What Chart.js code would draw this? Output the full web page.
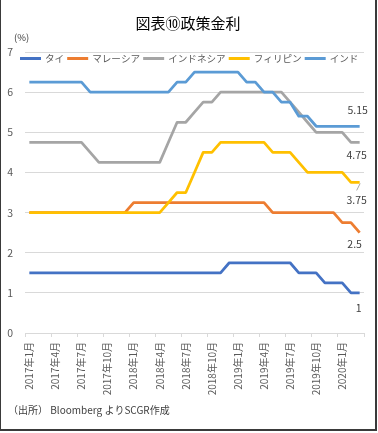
<!DOCTYPE html>
<html lang="ja">
<head>
<meta charset="utf-8">
<title>図表⑩政策金利</title>
<script src="https://cdn.jsdelivr.net/npm/chart.js@4.4.1/dist/chart.umd.min.js"></script>
<style>
  html, body { margin: 0; padding: 0; background: #fff; }
  #wrap { position: relative; width: 378px; height: 433px; }
  #frame {
    position: absolute; left: 0; top: 0; width: 374px; height: 429px;
    border-left: 1px solid #3a3a3a; border-right: 2px solid #3a3a3a; border-bottom: 2px solid #3a3a3a;
    pointer-events: none;
  }
</style>
</head>
<body>
<div id="wrap">
  <canvas id="rateChart" width="378" height="433"></canvas>
  <div id="frame"></div>
</div>
<script>
const chartTitle = '図表⑩政策金利';
const unitLabel = '(%)';
const sourceNote = '（出所） Bloomberg よりSCGR作成';

const months = [
  '2017年1月', '2017年2月', '2017年3月', '2017年4月', '2017年5月', '2017年6月',
  '2017年7月', '2017年8月', '2017年9月', '2017年10月', '2017年11月', '2017年12月',
  '2018年1月', '2018年2月', '2018年3月', '2018年4月', '2018年5月', '2018年6月',
  '2018年7月', '2018年8月', '2018年9月', '2018年10月', '2018年11月', '2018年12月',
  '2019年1月', '2019年2月', '2019年3月', '2019年4月', '2019年5月', '2019年6月',
  '2019年7月', '2019年8月', '2019年9月', '2019年10月', '2019年11月', '2019年12月',
  '2020年1月', '2020年2月', '2020年3月'
];

const seriesNames = ['タイ', 'マレーシア', 'インドネシア', 'フィリピン', 'インド'];

const thai = [
  1.5, 1.5, 1.5, 1.5, 1.5, 1.5, 1.5, 1.5, 1.5, 1.5, 1.5, 1.5,
  1.5, 1.5, 1.5, 1.5, 1.5, 1.5, 1.5, 1.5, 1.5, 1.5, 1.5, 1.75,
  1.75, 1.75, 1.75, 1.75, 1.75, 1.75, 1.75, 1.5, 1.5, 1.5, 1.25, 1.25,
  1.25, 1, 1
];
const malaysia = [
  3, 3, 3, 3, 3, 3, 3, 3, 3, 3, 3, 3,
  3.25, 3.25, 3.25, 3.25, 3.25, 3.25, 3.25, 3.25, 3.25, 3.25, 3.25, 3.25,
  3.25, 3.25, 3.25, 3.25, 3, 3, 3, 3, 3, 3, 3, 3,
  2.75, 2.75, 2.5
];
const indonesia = [
  4.75, 4.75, 4.75, 4.75, 4.75, 4.75, 4.75, 4.5, 4.25, 4.25, 4.25, 4.25,
  4.25, 4.25, 4.25, 4.25, 4.75, 5.25, 5.25, 5.5, 5.75, 5.75, 6, 6,
  6, 6, 6, 6, 6, 6, 5.75, 5.5, 5.25, 5, 5, 5,
  5, 4.75, 4.75
];
const philippines = [
  3, 3, 3, 3, 3, 3, 3, 3, 3, 3, 3, 3,
  3, 3, 3, 3, 3.25, 3.5, 3.5, 4, 4.5, 4.5, 4.75, 4.75,
  4.75, 4.75, 4.75, 4.75, 4.5, 4.5, 4.5, 4.25, 4, 4, 4, 4,
  4, 3.75, 3.75
];
const india = [
  6.25, 6.25, 6.25, 6.25, 6.25, 6.25, 6.25, 6, 6, 6, 6, 6,
  6, 6, 6, 6, 6, 6.25, 6.25, 6.5, 6.5, 6.5, 6.5, 6.5,
  6.5, 6.25, 6.25, 6, 6, 5.75, 5.75, 5.4, 5.4, 5.15, 5.15, 5.15,
  5.15, 5.15, 5.15
];

const yTicks = [0, 1, 2, 3, 4, 5, 6, 7];

const colors = ['#4472C4', '#ED7D31', '#A5A5A5', '#FFC000', '#5B9BD5'];
// where each end-of-line value label sits, relative to the last point
const endLabelOffset = [[-1, 15], [-5, 11], [-3, 13], [-3, 18], [-2, -16]];

const FONT = '"Noto Sans CJK JP", "Noto Sans", sans-serif';
Chart.defaults.font.family = FONT;

const decorations = {
    id: 'decorations',
    afterDraw(chart) {
        const ctx = chart.ctx;
        ctx.save();

        // title
        ctx.fillStyle = '#000';
        ctx.font = `15px ${FONT}`;
        ctx.textAlign = 'center';
        ctx.textBaseline = 'middle';
        ctx.fillText(chartTitle, 188, 23);

        // unit
        ctx.fillStyle = '#404040';
        ctx.font = `9.5px ${FONT}`;
        ctx.textAlign = 'left';
        ctx.fillText(unitLabel, 14, 37);

        // legend
        ctx.font = `9.6px ${FONT}`;
        let x = 20;
        chart.data.datasets.forEach(ds => {
            ctx.fillStyle = ds.borderColor;
            ctx.fillRect(x, 57, 21, 3);
            ctx.fillStyle = '#595959';
            ctx.fillText(ds.label, x + 25, 58);
            x += 25 + ctx.measureText(ds.label).width + 3;
        });

        // end values
        ctx.font = `10.5px ${FONT}`;
        ctx.fillStyle = '#404040';
        ctx.textAlign = 'center';
        chart.data.datasets.forEach((ds, i) => {
            const meta = chart.getDatasetMeta(i);
            const pt = meta.data[meta.data.length - 1];
            const off = endLabelOffset[i];
            ctx.fillText(String(ds.data[ds.data.length - 1]), pt.x + off[0], pt.y + off[1]);
            if (i === 3) {
                ctx.strokeStyle = '#a6a6a6';
                ctx.lineWidth = 1;
                ctx.beginPath();
                ctx.moveTo(pt.x + 0.5, pt.y + 1);
                ctx.lineTo(pt.x - 3, pt.y + 8);
                ctx.stroke();
            }
        });

        // source
        ctx.font = `10px ${FONT}`;
        ctx.fillStyle = '#404040';
        ctx.textAlign = 'left';
        ctx.fillText(sourceNote, 8, 410);

        ctx.restore();
    }
};

const seriesData = [thai, malaysia, indonesia, philippines, india];

new Chart(document.getElementById('rateChart'), {
    type: 'line',
    data: {
        labels: months,
        datasets: seriesData.map((values, i) => ({
            label: seriesNames[i],
            data: values,
            borderColor: colors[i],
            backgroundColor: colors[i],
            borderWidth: 2.75,
            pointRadius: 0,
            tension: 0,
            borderJoinStyle: 'round',
            order: seriesData.length - i
        }))
    },
    options: {
        responsive: false,
        animation: false,
        events: [],
        layout: { padding: { top: 52, right: 14, bottom: 33, left: 0 } },
        plugins: {
            legend: { display: false },
            title: { display: false },
            tooltip: { enabled: false }
        },
        scales: {
            x: {
                offset: true,
                afterFit: s => { s.height = 67; },
                border: { color: '#d9d9d9' },
                grid: {
                    offset: true,
                    drawOnChartArea: false,
                    tickLength: 4,
                    color: c => (c.index === undefined || c.index % 3 === 0) ? '#d9d9d9' : 'rgba(0,0,0,0)'
                },
                ticks: {
                    autoSkip: false,
                    minRotation: 90,
                    maxRotation: 90,
                    padding: 5,
                    color: '#595959',
                    font: { size: 10 },
                    callback: (v, i) => (i % 3 === 0 ? months[i] : '')
                }
            },
            y: {
                min: yTicks[0],
                max: yTicks[yTicks.length - 1],
                afterFit: s => { s.width = 25; },
                afterBuildTicks: s => { s.ticks = yTicks.map(v => ({ value: v })); },
                border: { display: false },
                grid: { color: '#d9d9d9', drawTicks: false },
                ticks: { padding: 12, color: '#595959', font: { size: 10.5 } }
            }
        }
    },
    plugins: [decorations]
});
</script>
</body>
</html>
